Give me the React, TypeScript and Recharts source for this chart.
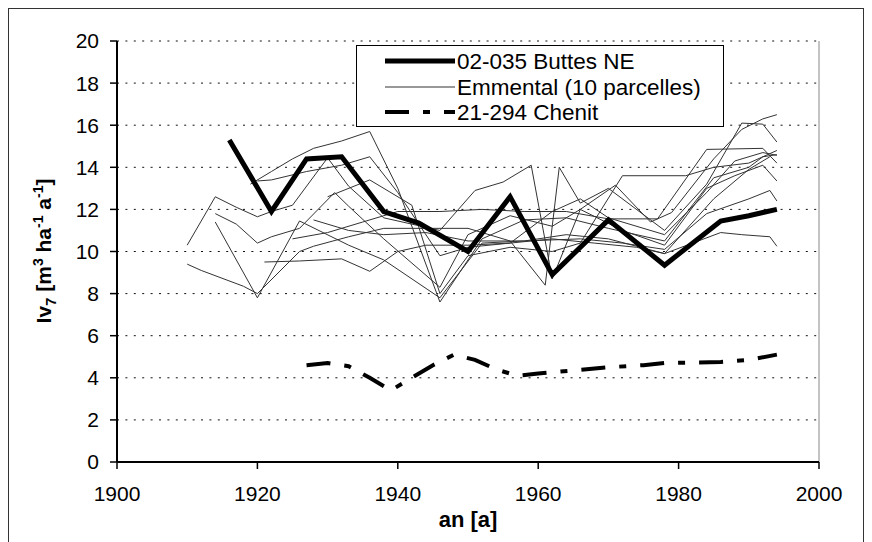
import React from 'react';
import { LineChart, Line, XAxis, YAxis, CartesianGrid, ReferenceLine, Legend } from 'recharts';

const FONT = '"Liberation Sans", Arial, sans-serif';

const yearTicks = [1900, 1920, 1940, 1960, 1980, 2000];
const valueTicks = [0, 2, 4, 6, 8, 10, 12, 14, 16, 18, 20];

const seriesNames = ['02-035 Buttes NE', 'Emmental (10 parcelles)', '21-294 Chenit'];

// 02-035 Buttes NE
const buttes = [
  [1916, 15.3], [1922, 11.9], [1927, 14.4], [1932, 14.5], [1938, 11.9], [1943, 11.35],
  [1950, 10.0], [1956, 12.6], [1962, 8.9], [1970, 11.5], [1978, 9.35], [1986, 11.45],
  [1990, 11.7], [1992, 11.85], [1994, 12.0],
];

// 21-294 Chenit
const chenit = [
  [1927, 4.6], [1930, 4.7], [1933, 4.55], [1936, 4.0], [1939, 3.4], [1942, 4.0],
  [1945, 4.6], [1948, 5.1], [1951, 4.85], [1954, 4.4], [1957, 4.1], [1960, 4.2],
  [1965, 4.35], [1970, 4.5], [1975, 4.6], [1978, 4.7], [1986, 4.75], [1990, 4.85], [1994, 5.1],
];

// Emmental, 10 parcelles
const emm01 = [
  [1910, 10.3], [1914, 12.6], [1917, 12.1], [1920, 11.65], [1922, 11.9], [1925, 12.2],
  [1930, 14.45], [1933, 13.1], [1938, 11.6], [1946, 11.0], [1951, 12.9], [1955, 13.3],
  [1959, 14.1], [1962, 8.7], [1966, 12.0], [1971, 13.15], [1976, 11.4], [1979, 11.85],
  [1985, 14.4], [1989, 15.8], [1992, 16.3], [1994, 16.5],
];
const emm02 = [
  [1910, 9.4], [1912, 9.1], [1918, 8.35], [1920, 8.0], [1926, 10.0], [1928, 10.25],
  [1933, 10.7], [1938, 11.1], [1944, 11.1], [1950, 11.1], [1956, 10.5], [1961, 8.4],
  [1963, 14.0], [1966, 12.3], [1970, 13.0], [1978, 11.0], [1984, 13.2], [1989, 16.1],
  [1992, 16.05], [1994, 15.2],
];
const emm03 = [
  [1914, 11.8], [1917, 11.3], [1920, 10.4], [1922, 10.7], [1926, 11.1], [1931, 12.8],
  [1933, 12.15], [1938, 10.6], [1946, 8.3], [1950, 10.8], [1956, 11.7], [1962, 11.2],
  [1966, 12.0], [1972, 11.0], [1978, 10.3], [1984, 13.0], [1988, 13.6], [1992, 14.1], [1994, 13.35],
];
const emm04 = [
  [1914, 11.4], [1920, 7.8], [1926, 11.45], [1933, 10.3], [1938, 9.6], [1946, 7.8],
  [1952, 10.4], [1958, 10.5], [1964, 10.8], [1970, 10.6], [1978, 9.9], [1985, 12.5],
  [1990, 13.9], [1993, 14.5],
];
const emm05 = [
  [1919, 13.2], [1922, 13.8], [1925, 14.4], [1928, 14.9], [1932, 15.25], [1936, 15.7],
  [1940, 13.0], [1946, 7.6], [1952, 10.6], [1958, 11.5], [1964, 11.6], [1970, 11.1],
  [1978, 10.5], [1985, 13.5], [1990, 14.0], [1992, 14.5], [1994, 14.6],
];
const emm06 = [
  [1920, 13.35], [1922, 13.4], [1927, 13.8], [1932, 14.1], [1936, 14.5], [1940, 12.8],
  [1946, 9.8], [1950, 10.2], [1956, 10.4], [1962, 11.9], [1966, 12.5], [1970, 11.6],
  [1978, 10.8], [1984, 12.8], [1988, 14.3], [1992, 14.7], [1994, 14.57],
];
const emm07 = [
  [1921, 9.5], [1926, 9.55], [1932, 9.65], [1936, 9.06], [1940, 10.0], [1944, 10.3],
  [1950, 10.3], [1956, 10.4], [1962, 10.6], [1968, 10.4], [1974, 10.2], [1978, 9.9],
  [1986, 10.9], [1989, 10.8], [1993, 10.7], [1994, 10.25],
];
const emm08 = [
  [1925, 10.6], [1930, 10.9], [1935, 11.4], [1940, 11.9], [1946, 11.9], [1952, 12.0],
  [1958, 11.9], [1964, 11.9], [1970, 11.55], [1977, 11.55], [1984, 14.85], [1992, 14.9], [1994, 14.2],
];
const emm09 = [
  [1930, 12.6], [1936, 13.4], [1942, 12.2], [1946, 8.0], [1950, 9.8], [1956, 10.2],
  [1962, 10.0], [1966, 10.4], [1972, 13.6], [1981, 13.6], [1985, 14.0], [1990, 14.2], [1994, 14.8],
];
const emm10 = [
  [1928, 11.5], [1933, 11.0], [1938, 10.8], [1944, 10.9], [1950, 10.5], [1958, 10.5],
  [1966, 10.6], [1972, 10.4], [1978, 10.1], [1984, 11.8], [1990, 12.5], [1993, 12.9], [1994, 12.4],
];

const emmental = [emm01, emm02, emm03, emm04, emm05, emm06, emm07, emm08, emm09, emm10];

const toPoints = (pairs: number[][]) => pairs.map(([year, v]) => ({ year, v }));

const CHENIT_DASH = '24 14 7 14';
const THIN = '#333';

const YTitle = () => (
  <text
    x={43}
    y={243}
    transform="rotate(-90 43 243)"
    textAnchor="middle"
    fontFamily={FONT}
    fontWeight="bold"
    fontSize={21}
    fill="#000"
  >
    Iv<tspan fontSize={15} dy={5}>7</tspan>
    <tspan dy={-5}> [m</tspan>
    <tspan fontSize={14} dy={-8}>3</tspan>
    <tspan dy={8}> ha</tspan>
    <tspan fontSize={14} dy={-8}>-1</tspan>
    <tspan dy={8}> a</tspan>
    <tspan fontSize={14} dy={-8}>-1</tspan>
    <tspan dy={8}>]</tspan>
  </text>
);

const XTitle = () => (
  <text x={460} y={519} textAnchor="middle" fontFamily={FONT} fontWeight="bold" fontSize={22} fill="#000">
    an [a]
  </text>
);

const renderLegend = () => (
  <svg width={368} height={82} style={{ display: 'block' }}>
    <rect x={0.5} y={0.5} width={367} height={81} fill="#fff" stroke="#000" />
    <line x1={29} x2={99} y1={16} y2={16} stroke="#000" strokeWidth={5} />
    <line x1={29} x2={99} y1={42} y2={42} stroke={THIN} strokeWidth={1} />
    <line x1={29} x2={99} y1={67} y2={67} stroke="#000" strokeWidth={4} strokeDasharray={CHENIT_DASH} />
    {seriesNames.map((name, i) => (
      <text key={name} x={101} y={24 + i * 25.5} fontFamily={FONT} fontSize={22.5} fill="#000">
        {name}
      </text>
    ))}
  </svg>
);

export default function App() {
  return (
    <div
      style={{
        width: 856,
        height: 534,
        borderTop: '1px solid #333',
        borderLeft: '1px solid #333',
        borderRight: '1px solid #333',
        boxSizing: 'border-box',
        position: 'relative',
        background: '#fff',
      }}
    >
      <div style={{ position: 'absolute', left: -1, top: -1 }}>
        <LineChart width={856} height={534} margin={{ top: 33, right: 45, bottom: 30, left: 29 }}>
          <CartesianGrid vertical={false} stroke="#111" strokeDasharray="2 6.4" />
          <XAxis
            dataKey="year"
            type="number"
            domain={[1900, 2000]}
            ticks={yearTicks}
            allowDuplicatedCategory={false}
            height={50}
            tickSize={7}
            tickMargin={17}
            tick={{ fill: '#000', fontSize: 21, fontFamily: FONT }}
            axisLine={{ stroke: '#000', strokeWidth: 2 }}
            tickLine={{ stroke: '#000', strokeWidth: 1.5 }}
            label={{ content: () => <XTitle /> }}
          />
          <YAxis
            type="number"
            domain={[0, 20]}
            ticks={valueTicks}
            width={80}
            tickSize={7}
            tickMargin={11}
            tick={{ fill: '#000', fontSize: 21, fontFamily: FONT }}
            axisLine={{ stroke: '#000', strokeWidth: 2 }}
            tickLine={{ stroke: '#000', strokeWidth: 1.5 }}
            label={{ content: () => <YTitle /> }}
          />
          <ReferenceLine x={2000} stroke="#888" strokeWidth={1} />
          {emmental.map((pairs, i) => (
            <Line
              key={'emm' + i}
              data={toPoints(pairs)}
              dataKey="v"
              name={seriesNames[1]}
              type="linear"
              stroke={THIN}
              strokeWidth={1}
              dot={false}
              activeDot={false}
              legendType="none"
              isAnimationActive={false}
            />
          ))}
          <Line
            data={toPoints(chenit)}
            dataKey="v"
            name={seriesNames[2]}
            type="linear"
            stroke="#000"
            strokeWidth={4}
            strokeDasharray={CHENIT_DASH}
            dot={false}
            activeDot={false}
            isAnimationActive={false}
          />
          <Line
            data={toPoints(buttes)}
            dataKey="v"
            name={seriesNames[0]}
            type="linear"
            stroke="#000"
            strokeWidth={5}
            strokeLinejoin="miter"
            dot={false}
            activeDot={false}
            isAnimationActive={false}
          />
          <Legend
            layout="vertical"
            align="center"
            verticalAlign="middle"
            content={renderLegend}
            wrapperStyle={{ position: 'absolute', left: 348, top: 37, width: 368, height: 82 }}
          />
        </LineChart>
      </div>
    </div>
  );
}
